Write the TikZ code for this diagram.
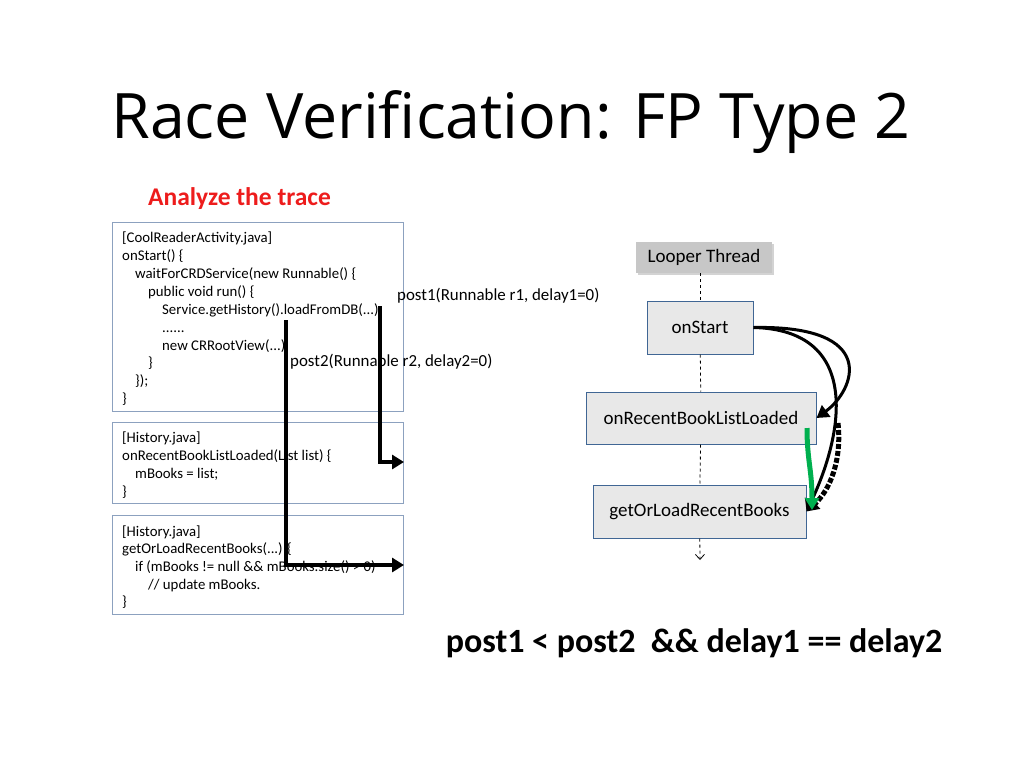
\documentclass[tikz,border=0pt]{standalone}
\usepackage{fontspec}
\setmainfont{Carlito}
\newfontfamily\titlefont{Open Sans}
\usetikzlibrary{arrows.meta,shadows}
\definecolor{boxline}{rgb}{0.55,0.63,0.75}
\definecolor{evline}{rgb}{0.25,0.40,0.58}
\definecolor{evfill}{rgb}{0.91,0.91,0.91}
\definecolor{tracered}{rgb}{0.93,0.11,0.11}
\definecolor{postgreen}{rgb}{0.0,0.69,0.31}
\tikzset{
  codebox/.style={draw=boxline, line width=0.8pt, anchor=north west, inner sep=0pt},
  codeline/.style={anchor=base west, font=\fontsize{14.8}{14.8}\selectfont, inner sep=0pt},
  event/.style={draw=evline, fill=evfill, line width=1pt, font=\fontsize{19}{19}\selectfont},
  postarrow/.style={line width=4pt, -{Triangle[length=12pt,width=14pt]}},
}
\begin{document}
\begin{tikzpicture}[x=1pt,y=-1pt]
\useasboundingbox (0,0) rectangle (1024,768);
% title
\node[font=\titlefont\fontsize{62.7}{62.7}\selectfont] (title) at (511,122) {Race Verification: FP Type 2};
\node[anchor=base west, text=tracered, font=\bfseries\fontsize{25.5}{25.5}\selectfont, inner sep=0pt] (analyze) at (148,205) {Analyze the trace};
% code boxes
\draw[codebox] (112,222) rectangle (403,411);
\draw[codebox] (112,422) rectangle (403,503);
\draw[codebox] (112,515) rectangle (403,614);
\node[codeline] (c1) at (122,242) {[CoolReaderActivity.java]};
\node[codeline] (c2) at (122,260) {onStart() \{};
\node[codeline] (c3) at (135,278) {waitForCRDService(new Runnable() \{};
\node[codeline] (c4) at (148,296) {public void run() \{};
\node[codeline] (c5) at (162,314) {Service.getHistory().loadFromDB(...);};
\node[codeline] (c6) at (162,332) {......};
\node[codeline] (c7) at (162,350) {new CRRootView(...);};
\node[codeline] (c8) at (148,367) {\}};
\node[codeline] (c9) at (135,385) {\});};
\node[codeline] (c10) at (122,403) {\}};
\node[codeline] (d1) at (122,442) {[History.java]};
\node[codeline] (d2) at (122,460) {onRecentBookListLoaded(List list) \{};
\node[codeline] (d3) at (135,478) {mBooks = list;};
\node[codeline] (d4) at (122,496) {\}};
\node[codeline] (e1) at (122,536) {[History.java]};
\node[codeline] (e2) at (122,553) {getOrLoadRecentBooks(...) \{};
\node[codeline] (e3) at (135,571) {if (mBooks != null \&\& mBooks.size() > 0)};
\node[codeline] (e4) at (148,589) {// update mBooks.};
\node[codeline] (e5) at (122,606) {\}};
% posts
\node[codeline, font=\fontsize{16.9}{16.9}\selectfont] (post1) at (397,300) {post1(Runnable r1, delay1=0)};
\node[codeline, font=\fontsize{16.9}{16.9}\selectfont] (post2) at (290,366) {post2(Runnable r2, delay2=0)};
\coordinate (p1s) at (380,306);
\coordinate (p1e) at (404,462);
\coordinate (p2s) at (286,320);
\coordinate (p2e) at (404,565);
\draw[postarrow] (p1s) |- (p1e);
\draw[postarrow] (p2s) |- (p2e);
% looper thread
\node[fill=black!22, drop shadow={opacity=0.35}, minimum width=136pt, minimum height=31pt, font=\fontsize{19}{19}\selectfont] (looper) at (704,257.5) {Looper Thread};
\node[event, minimum width=106pt, minimum height=53pt] (start) at (700,327.5) {onStart};
\node[event, minimum width=230pt, minimum height=52pt] (loaded) at (701,418) {onRecentBookListLoaded};
\node[event, minimum width=213pt, minimum height=53pt] (books) at (699.5,511.5) {getOrLoadRecentBooks};
\coordinate (tend) at (700,560);
\draw[dashed, line width=0.8pt] (looper.south -| start.north) -- (start.north);
\draw[dashed, line width=0.8pt] (start) -- (loaded);
\draw[dashed, line width=0.8pt] (loaded) -- (books);
\draw[dashed, line width=0.8pt, -{Straight Barb[length=5pt,width=9pt]}] (books) -- (tend);
% happens-before
\draw[line width=3pt, -{Triangle[length=12pt,width=14pt]}] (start.east) .. controls (880,325) and (855,390) .. (loaded.east);
\draw[line width=3pt, -{Triangle[length=12pt,width=14pt]}] (start.east) .. controls (860,330) and (845,430) .. (books.east);
\coordinate (dotA) at (838,423);
\draw[line width=5pt, dotted, -{Triangle[length=12pt,width=14pt]}] (dotA) .. controls (842,460) and (830,490) .. (books.east);
\coordinate (grA) at (807,428);
\draw[postgreen, line width=5pt, -{Triangle[length=12pt,width=14pt]}] (grA) .. controls (807,460) and (812,470) .. (812,510);
% condition
\node[font=\bfseries\fontsize{34}{34}\selectfont] (cond) at (694,643) {post1 < post2\ \ \&\& delay1 == delay2};
\end{tikzpicture}
\end{document}
